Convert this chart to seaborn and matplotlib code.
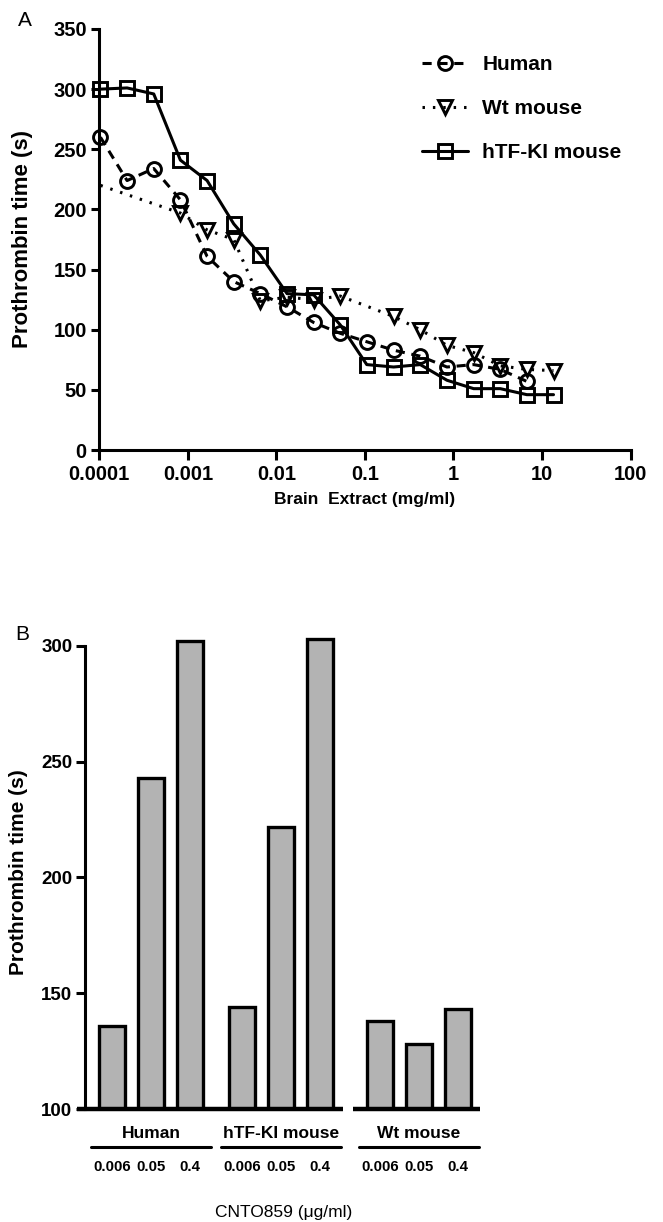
import matplotlib
matplotlib.use('Agg')
import matplotlib.pyplot as plt
from matplotlib import font_manager
from matplotlib.ticker import NullLocator
import seaborn as sns
import numpy as np
import pandas as pd

# Panel A: prothrombin time vs brain extract dilution (NaN = no point)
extract_conc = [0.000103, 0.000206, 0.000412, 0.000824, 0.00165, 0.0033, 0.0066,
                0.0132, 0.0264, 0.0527, 0.105, 0.211, 0.422, 0.844, 1.69, 3.38,
                6.75, 13.5]
pt_human = [260, 224, 234, 208, 161, 140, 130, 119, 106, 97, 90, 83, 78, 69, 71,
            67, 57, np.nan]
pt_wt = [220, np.nan, np.nan, 197, 183, 175, 124, 127, 125, 128, np.nan, 111, 100,
         87, 81, 70, 67, 66]
pt_htf = [300, 301, 296, 241, 224, 188, 162, 130, 129, 104, 71, 69, 71, 58, 51,
          51, 46, 46]
x_ticks = [0.0001, 0.001, 0.01, 0.1, 1, 10, 100]
x_ticklabels = ['0.0001', '0.001', '0.01', '0.1', '1', '10', '100']

# Panel B: prothrombin time with CNTO859
species = ['Human', 'hTF-KI mouse', 'Wt mouse']
cnto_doses = ['0.006', '0.05', '0.4']
pt_cnto_human = [136, 243, 302]
pt_cnto_htf = [144, 222, 303]
pt_cnto_wt = [138, 128, 143]

sns.set_style('ticks')
avail = {f.name for f in font_manager.fontManager.ttflist}
narrow = 'Liberation Sans Narrow' if 'Liberation Sans Narrow' in avail else 'Liberation Sans'
plt.rcParams['font.family'] = ['Liberation Sans', 'DejaVu Sans']
plt.rcParams['axes.linewidth'] = 2.2
for key in ['text.color', 'axes.labelcolor', 'xtick.color', 'ytick.color',
            'axes.edgecolor']:
    plt.rcParams[key] = 'black'

W, H = 663, 1222
fig = plt.figure(figsize=(W / 100, H / 100), dpi=100)

# ---------------- panel A
axA = fig.add_axes([99.3 / W, 1 - 450 / H, (630.5 - 99.3) / W, (450 - 29) / H])
series = [
    (pt_human, 'Human', (0, (3, 2.2)), 'o', None),
    (pt_wt, 'Wt mouse', (0, (0.8, 2.6)), 'v', slice(1, None)),
    (pt_htf, 'hTF-KI mouse', '-', 's', None),
]
for vals, name, ls, mk, every in series:
    df = pd.DataFrame({'conc': extract_conc, 'pt': vals}).dropna()
    sns.lineplot(data=df, x='conc', y='pt', ax=axA, color='k', linestyle=ls, lw=2.2,
                 marker=mk, ms=10, mfc='none', mec='k', mew=2.1, label=name,
                 errorbar=None, clip_on=False, markevery=every, zorder=3)

axA.set_xscale('log')
axA.set_xlim(1e-4, 100)
axA.set_ylim(0, 350)
axA.set_xticks(x_ticks)
axA.set_xticklabels(x_ticklabels)
axA.xaxis.set_minor_locator(NullLocator())
axA.set_yticks(range(0, 351, 50))
sns.despine(ax=axA)
axA.tick_params(axis='x', length=7.5, width=2.2, labelsize=14.5, pad=3)
axA.tick_params(axis='y', length=6, width=2.2, labelsize=14.5, pad=3)
for lab in axA.get_xticklabels() + axA.get_yticklabels():
    lab.set_fontweight('bold')
axA.set_xlabel('Brain  Extract (mg/ml)', fontsize=12.5, fontweight='bold')
axA.xaxis.set_label_coords(0.5, -0.1)
axA.set_ylabel('Prothrombin time (s)', fontsize=16, fontweight='bold')
axA.yaxis.set_label_coords(-0.125, 0.5)
axA.legend(loc='upper left', bbox_to_anchor=(422 / W, 1 - 55 / H),
           bbox_transform=fig.transFigure, frameon=False, borderpad=0,
           borderaxespad=0, handlelength=2.2, handletextpad=0.7,
           labelspacing=1.2, prop={'size': 15, 'weight': 'bold'})
fig.text(25 / W, 1 - 21 / H, 'A', ha='center', va='center', fontsize=15)

# ---------------- panel B
top_px = 634.4
axB = fig.add_axes([85 / W, 1 - 1109 / H, 395 / W, (1109 - top_px) / H])
group_start = [0, 3.33, 6.87]
pos = [g + i for g in group_start for i in range(3)]
vals = pt_cnto_human + pt_cnto_htf + pt_cnto_wt
sns.barplot(x=pos, y=vals, native_scale=True, width=0.67, color='#b3b3b3',
            saturation=1, edgecolor='k', linewidth=2.4, errorbar=None, ax=axB)
axB.set_xlim(-0.692, 9.44)
axB.set_ylim(100, 305)
axB.set_yticks([100, 150, 200, 250, 300])
sns.despine(ax=axB)
axB.spines['left'].set_bounds(100, 300)
axB.spines['bottom'].set_visible(False)
axB.set_xticks([])
axB.tick_params(axis='y', length=6.5, width=2.2, labelsize=13.5, pad=2.5)
for lab in axB.get_yticklabels():
    lab.set_fontweight('bold')
    lab.set_fontfamily([narrow, 'DejaVu Sans'])
axB.set_xlabel('')
axB.set_ylabel('Prothrombin time (s)', fontsize=15, fontweight='bold')
axB.yaxis.set_label_coords(-0.145, 0.5)

# broken baseline
for x0, x1 in [(pos[0] - 0.9, pos[5] + 0.59), (pos[6] - 0.69, pos[8] + 0.57)]:
    axB.plot([x0, x1], [100, 100], color='k', lw=3.2, clip_on=False,
             solid_capstyle='butt', zorder=4)

h_px = 1109 - top_px
tr = axB.get_xaxis_transform()
for g, name in zip(group_start, species):
    c = g + 1
    axB.text(c, -24 / h_px, name, transform=tr, ha='center', va='center',
             fontsize=12.5, fontweight='bold')
    axB.plot([c - 1.54, c + 1.54], [-38 / h_px] * 2, transform=tr, color='k',
             lw=2.2, clip_on=False)
    for i, d in enumerate(cnto_doses):
        axB.text(g + i, -58 / h_px, d, transform=tr, ha='center', va='center',
                 fontsize=10.8, fontweight='bold', family=[narrow, 'DejaVu Sans'])
axB.text(np.mean(pos), -103 / h_px, 'CNTO859 (\u03bcg/ml)', transform=tr,
         ha='center', va='center', fontsize=12.5)
fig.text(22 / W, 1 - 635 / H, 'B', ha='center', va='center', fontsize=15)

fig.savefig('out.png', dpi=100)
